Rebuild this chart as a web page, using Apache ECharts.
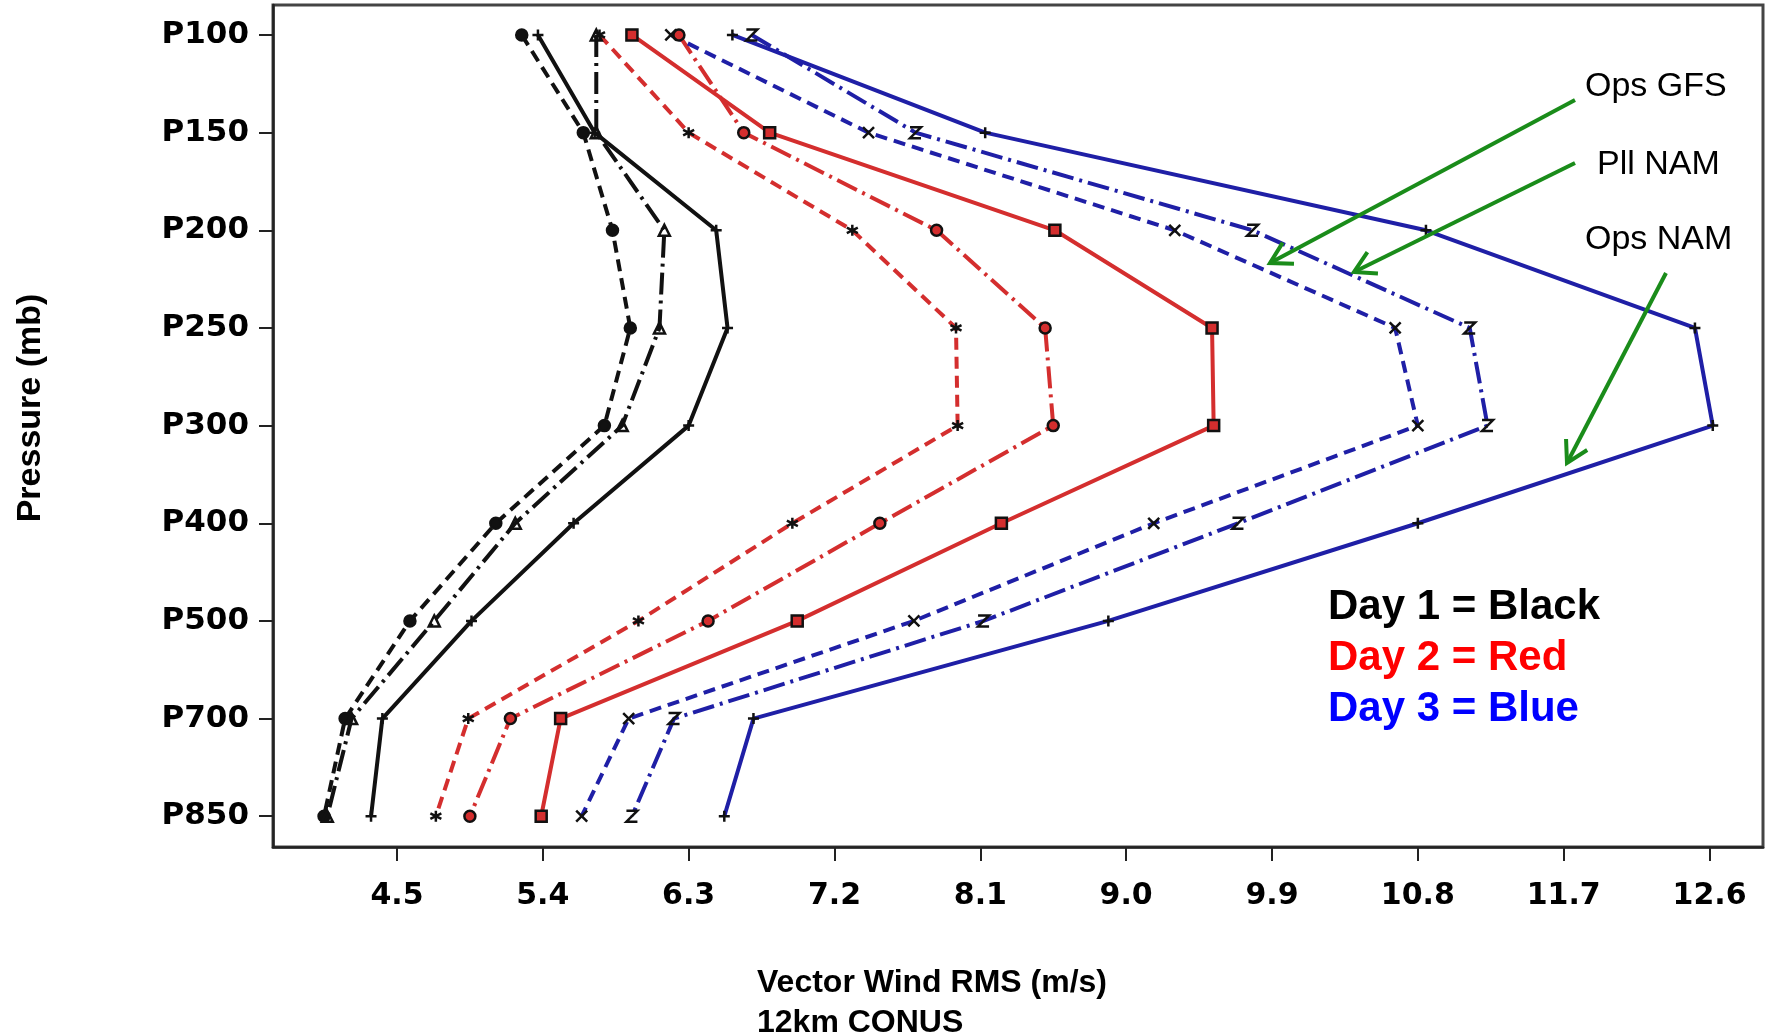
<!DOCTYPE html>
<html>
<head>
<meta charset="utf-8">
<script src="https://cdn.jsdelivr.net/npm/echarts@6/dist/echarts.min.js"></script>
<style>
  html, body { margin: 0; padding: 0; background: #fff; }
  #chart { width: 1765px; height: 1036px; }
</style>
</head>
<body>
<div id="chart"></div>
<script>
// ---- data ----
const levels = ['P100', 'P150', 'P200', 'P250', 'P300', 'P400', 'P500', 'P700', 'P850'];
const xTicks = [4.5, 5.4, 6.3, 7.2, 8.1, 9.0, 9.9, 10.8, 11.7, 12.6];

// Day 1 (black)
const day1OpsGFS = [5.27, 5.65, 5.83, 5.94, 5.78, 5.11, 4.58, 4.18, 4.05];
const day1PllNAM = [5.73, 5.73, 6.15, 6.12, 5.89, 5.23, 4.73, 4.22, 4.07];
const day1OpsNAM = [5.37, 5.72, 6.47, 6.54, 6.30, 5.59, 4.96, 4.41, 4.34];
// Day 2 (red)
const day2OpsGFS = [5.75, 6.30, 7.31, 7.95, 7.96, 6.94, 5.99, 4.94, 4.74];
const day2PllNAM = [6.24, 6.64, 7.83, 8.50, 8.55, 7.48, 6.42, 5.20, 4.95];
const day2OpsNAM = [5.95, 6.80, 8.56, 9.53, 9.54, 8.23, 6.97, 5.51, 5.39];
// Day 3 (blue)
const day3OpsGFS = [6.19, 7.41, 9.30, 10.66, 10.80, 9.17, 7.69, 5.93, 5.64];
const day3PllNAM = [6.69, 7.70, 9.78, 11.12, 11.23, 9.69, 8.12, 6.21, 5.95];
const day3OpsNAM = [6.57, 8.13, 10.85, 12.51, 12.62, 10.80, 8.89, 6.70, 6.52];

const legendLines = ['Day 1 = Black', 'Day 2 = Red', 'Day 3 = Blue'];
const modelLabels = ['Ops GFS', 'Pll NAM', 'Ops NAM'];
const xTitle = ['Vector Wind RMS (m/s)', '12km CONUS'];
const yTitle = 'Pressure (mb)';

// ---- styles ----
const BLACK = '#111111', RED = '#d42e2e', BLUE = '#1f1fa6';
const DASH = [12, 7];
const DASHDOT = [22, 6, 3, 6];
const SYM = {
  plus: 'path://M5,0L5,10M0,5L10,5',
  cross: 'path://M0,0L10,10M10,0L0,10',
  zee: 'path://M0,0L10,0L0,10L10,10',
  star: 'path://M5,0L5,10M0,2.5L10,7.5M10,2.5L0,7.5',
  tri: 'path://M5,0L10,10L0,10Z',
  sq: 'path://M0,0L10,0L10,10L0,10Z'
};

function mk(name, values, color, type, symbol, fill) {
  return {
    name: name,
    type: 'line',
    data: values.map((v, i) => [v, i]),
    lineStyle: { color: color, width: 4, type: type },
    symbol: symbol,
    symbolSize: 11,
    itemStyle: { color: fill || 'rgba(0,0,0,0)', borderColor: '#111', borderWidth: 2.5 },
    emphasis: { disabled: true },
    animation: false
  };
}

const series = [
  mk('Day1 Ops GFS', day1OpsGFS, BLACK, DASH, 'circle', '#111'),
  mk('Day1 Pll NAM', day1PllNAM, BLACK, DASHDOT, SYM.tri),
  mk('Day1 Ops NAM', day1OpsNAM, BLACK, 'solid', SYM.plus),
  mk('Day2 Ops GFS', day2OpsGFS, RED, DASH, SYM.star),
  mk('Day2 Pll NAM', day2PllNAM, RED, DASHDOT, 'circle', RED),
  mk('Day2 Ops NAM', day2OpsNAM, RED, 'solid', SYM.sq, RED),
  mk('Day3 Ops GFS', day3OpsGFS, BLUE, DASH, SYM.cross),
  mk('Day3 Pll NAM', day3PllNAM, BLUE, DASHDOT, SYM.zee),
  mk('Day3 Ops NAM', day3OpsNAM, BLUE, 'solid', SYM.plus)
];

const chart = echarts.init(document.getElementById('chart'), null, { renderer: 'canvas' });

// annotations (pixel placement of free text and arrows)
const GREEN = '#1a8c1a';
const arrows = [
  [[1575, 100], [1270, 263]],
  [[1575, 163], [1354, 272]],
  [[1666, 273], [1567, 463]]
];
const graphic = [];
arrows.forEach(([a, b]) => {
  graphic.push({ type: 'line', shape: { x1: a[0], y1: a[1], x2: b[0], y2: b[1] },
    style: { stroke: GREEN, lineWidth: 4 }, z: 100 });
  const ang = Math.atan2(a[1] - b[1], a[0] - b[0]);
  const L = 24, sp = 0.52;
  graphic.push({ type: 'polyline', shape: { points: [
      [b[0] + L * Math.cos(ang + sp), b[1] + L * Math.sin(ang + sp)],
      [b[0], b[1]],
      [b[0] + L * Math.cos(ang - sp), b[1] + L * Math.sin(ang - sp)]
    ] }, style: { stroke: GREEN, lineWidth: 4, fill: null }, z: 100 });
});
const annoPos = [[1585, 87], [1597, 165], [1585, 240]];
modelLabels.forEach((t, i) => {
  graphic.push({ type: 'text', x: annoPos[i][0], y: annoPos[i][1], z: 100,
    style: { text: t, font: '34px "Liberation Sans", Arial, sans-serif', fill: '#000',
      textAlign: 'left', textVerticalAlign: 'middle' } });
});
const legColors = ['#000000', '#ff0000', '#0000ff'];
const legY = [607, 658, 709];
legendLines.forEach((t, i) => {
  graphic.push({ type: 'text', x: 1328, y: legY[i], z: 100,
    style: { text: t, font: 'bold 42px "Liberation Sans", Arial, sans-serif', fill: legColors[i],
      textAlign: 'left', textVerticalAlign: 'middle' } });
});
const xtY = [983, 1023];
xTitle.forEach((t, i) => {
  graphic.push({ type: 'text', x: 757, y: xtY[i], z: 100,
    style: { text: t, font: 'bold 32px "Liberation Sans", Arial, sans-serif', fill: '#000',
      textAlign: 'left', textVerticalAlign: 'middle' } });
});
graphic.push({ type: 'text', x: 31, y: 408, rotation: Math.PI / 2, z: 100,
  style: { text: yTitle, font: 'bold 34px "Liberation Sans", Arial, sans-serif', fill: '#000',
    textAlign: 'center', textVerticalAlign: 'middle' } });

const tickFontFamily = '"DejaVu Sans", sans-serif';

chart.setOption({
  backgroundColor: '#ffffff',
  animation: false,
  grid: { left: 273, right: 2, top: 5, bottom: 189, show: true, borderColor: '#444', borderWidth: 3,
    backgroundColor: 'transparent' },
  xAxis: {
    type: 'value',
    min: 3.735,
    max: 12.93,
    axisLine: { show: true, onZero: false, lineStyle: { color: '#222', width: 2.5 } },
    axisTick: { show: true, customValues: xTicks, length: 14, inside: false, lineStyle: { color: '#222', width: 2 } },
    axisLabel: { customValues: xTicks, margin: 34, color: '#000', fontSize: 30, fontWeight: 'bold',
      fontFamily: tickFontFamily, formatter: v => v.toFixed(1) },
    splitLine: { show: false }
  },
  yAxis: {
    type: 'value',
    inverse: true,
    min: -0.307,
    max: 8.315,
    axisLine: { show: true, onZero: false, lineStyle: { color: '#222', width: 2.5 } },
    axisTick: { show: true, customValues: levels.map((_, i) => i), length: 14, lineStyle: { color: '#222', width: 2 } },
    axisLabel: { customValues: levels.map((_, i) => i), margin: 24, color: '#000', fontSize: 31, fontWeight: 'bold',
      fontFamily: tickFontFamily, formatter: v => levels[Math.round(v)] },
    splitLine: { show: false }
  },
  series: series,
  graphic: graphic
});
</script>
</body>
</html>
